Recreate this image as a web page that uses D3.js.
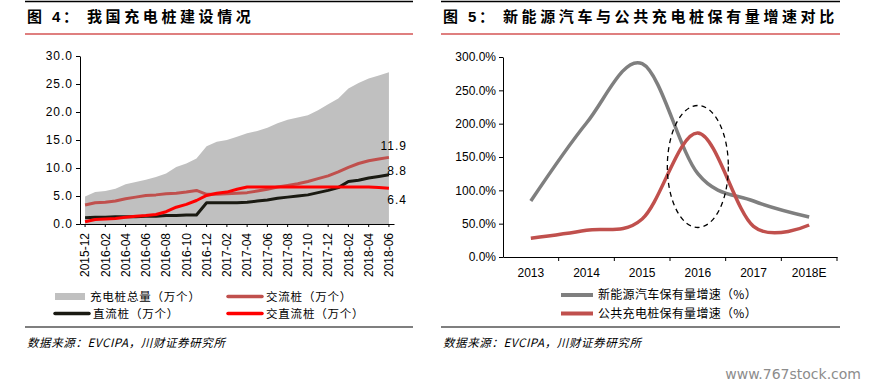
<!DOCTYPE html>
<html>
<head>
<meta charset="utf-8">
<script src="https://cdn.jsdelivr.net/npm/d3@7"></script>
<style>
  body { margin: 0; background: #fff; }
  svg { display: block; }
  text { fill: #000; }
  .num { font-family: "Liberation Sans", Arial, sans-serif; font-size: 12px; }
  .cjk { font-family: "Noto Sans CJK SC", sans-serif; }
</style>
</head>
<body>
<svg id="vis" width="872" height="387"></svg>
<script>
// left: charging pile build-out, monthly (万个)
let months = ["2015-12", "2016-01", "2016-02", "2016-03", "2016-04", "2016-05", "2016-06", "2016-07",
    "2016-08", "2016-09", "2016-10", "2016-11", "2016-12", "2017-01", "2017-02", "2017-03", "2017-04",
    "2017-05", "2017-06", "2017-07", "2017-08", "2017-09", "2017-10", "2017-11", "2017-12", "2018-01",
    "2018-02", "2018-03", "2018-04", "2018-05", "2018-06"];
let monthTicks = ["2015-12", "2016-02", "2016-04", "2016-06", "2016-08", "2016-10", "2016-12", "2017-02",
    "2017-04", "2017-06", "2017-08", "2017-10", "2017-12", "2018-02", "2018-04", "2018-06"];
let totalPiles = [4.9, 5.7, 5.9, 6.3, 7.1, 7.5, 7.9, 8.4, 9.0, 10.2, 10.8, 11.7, 13.9, 14.7, 15.0, 15.6,
    16.2, 16.6, 17.2, 18.0, 18.6, 19.0, 19.4, 20.3, 21.4, 22.4, 24.2, 25.2, 26.0, 26.5, 27.1];
let acPiles = [3.4, 3.8, 3.9, 4.1, 4.5, 4.8, 5.1, 5.2, 5.4, 5.5, 5.7, 6.0, 5.3, 5.3, 5.4, 5.5, 5.6,
    5.9, 6.2, 6.6, 6.9, 7.2, 7.6, 8.1, 8.6, 9.3, 10.1, 10.8, 11.3, 11.6, 11.9];
let dcPiles = [1.1, 1.2, 1.2, 1.3, 1.3, 1.3, 1.4, 1.4, 1.5, 1.5, 1.6, 1.6, 3.8, 3.8, 3.8, 3.8, 3.9,
    4.1, 4.3, 4.6, 4.8, 5.0, 5.2, 5.6, 6.0, 6.5, 7.6, 7.8, 8.2, 8.5, 8.8];
let acdcPiles = [0.4, 0.8, 0.9, 1.0, 1.2, 1.4, 1.5, 1.7, 2.2, 3.0, 3.5, 4.2, 5.1, 5.5, 5.7, 6.2, 6.6,
    6.6, 6.6, 6.6, 6.6, 6.6, 6.6, 6.6, 6.6, 6.6, 6.6, 6.6, 6.6, 6.5, 6.4];
let leftTicks = [0, 5, 10, 15, 20, 25, 30];

// right: growth rates by year
let years = ["2013", "2014", "2015", "2016", "2017", "2018E"];
let evGrowth = [0.84, 2.01, 2.90, 1.25, 0.84, 0.60];
let pileGrowth = [0.28, 0.40, 0.57, 1.86, 0.46, 0.48];
let rightTicks = [0, 0.5, 1, 1.5, 2, 2.5, 3];

let svg = d3.select("#vis");

// ---------- frames, titles, footers ----------
function frame(x0, x1, fig, title) {
    svg.append("line").attr("x1", x0).attr("x2", x1).attr("y1", 1.5).attr("y2", 1.5)
        .attr("stroke", "#000").attr("stroke-width", 1.5);
    svg.append("line").attr("x1", x0).attr("x2", x1).attr("y1", 34).attr("y2", 34)
        .attr("stroke", "#c00000").attr("stroke-width", 1.2);
    svg.append("line").attr("x1", x0).attr("x2", x1).attr("y1", 327).attr("y2", 327)
        .attr("stroke", "#000").attr("stroke-width", 1.2);
    let t = svg.append("text").attr("class", "cjk").attr("y", 22)
        .attr("font-size", "15px").attr("font-weight", "bold");
    t.append("tspan").attr("x", x0 + 2).text("图");
    t.append("tspan").attr("x", x0 + 27).attr("font-family", "Liberation Sans, Arial").text(fig);
    t.append("tspan").attr("x", x0 + 38).text("：");
    t.append("tspan").attr("x", x0 + 62).attr("letter-spacing", "3.6px").text(title);
    svg.append("text").attr("class", "cjk").attr("x", x0 + 2).attr("y", 347)
        .attr("font-size", "11.5px").attr("font-style", "italic").attr("letter-spacing", "0.6px")
        .text("数据来源：EVCIPA，川财证券研究所");
}
frame(25, 413, "4", "我国充电桩建设情况");
frame(441, 840, "5", "新能源汽车与公共充电桩保有量增速对比");

// ---------- left chart ----------
let xL = d3.scaleBand().domain(months).range([80, 394]);
let yL = d3.scaleLinear().domain([0, 30]).range([224, 56]);
let cx = d => xL(d) + xL.bandwidth() / 2;

svg.append("path")
    .datum(months)
    .attr("fill", "#c0c0c0")
    .attr("d", d3.area().x(d => cx(d)).y0(yL(0)).y1((d, i) => yL(totalPiles[i])));

let lineL = vals => d3.line().x(d => cx(d)).y((d, i) => yL(vals[i]))(months);
[[acPiles, "#c0504d"], [dcPiles, "#1a1a12"], [acdcPiles, "#ff0000"]].forEach(([vals, c]) => {
    svg.append("path").attr("d", lineL(vals)).attr("fill", "none")
        .attr("stroke", c).attr("stroke-width", 3).attr("stroke-linejoin", "round");
});

let gyL = svg.append("g").attr("transform", "translate(80,0)")
    .call(d3.axisLeft(yL).tickValues(leftTicks).tickSize(4).tickSizeOuter(0).tickFormat(d3.format(".1f")));
let gxL = svg.append("g").attr("transform", "translate(0,224)")
    .call(d3.axisBottom(xL).tickValues(monthTicks).tickSize(3).tickSizeOuter(0));
gxL.selectAll("text").attr("transform", "rotate(-90)").attr("text-anchor", "end")
    .attr("x", -9).attr("y", 0).attr("dy", "0.35em");

// end labels
let last = months.length - 1;
[[acPiles, -12], [dcPiles, -4], [acdcPiles, 12]].forEach(([vals, dy]) => {
    svg.append("text").attr("class", "num").attr("font-size", "12.5px").attr("letter-spacing", "1px")
        .attr("x", cx(months[last]) + 18).attr("y", yL(vals[last]) + dy).attr("dy", "0.35em")
        .attr("text-anchor", "end").text(d3.format(".1f")(vals[last]));
});

// left legend
let legL = [
    {label: "充电桩总量（万个）", x: 55, y: 296.5, c: "#c0c0c0", box: true},
    {label: "交流桩（万个）", x: 228, y: 296.5, c: "#c0504d"},
    {label: "直流桩（万个）", x: 55, y: 313.5, c: "#1a1a12"},
    {label: "交直流桩（万个）", x: 228, y: 313.5, c: "#ff0000"}
];
legL.forEach(d => {
    if (d.box) {
        svg.append("rect").attr("x", d.x).attr("y", d.y - 3.5).attr("width", 30).attr("height", 7).attr("fill", d.c);
    } else {
        svg.append("line").attr("x1", d.x).attr("x2", d.x + 34).attr("y1", d.y).attr("y2", d.y)
            .attr("stroke", d.c).attr("stroke-width", 3.5).attr("stroke-linecap", "round");
    }
    svg.append("text").attr("class", "cjk").attr("font-size", "11.5px").attr("letter-spacing", "0.8px")
        .attr("x", d.x + (d.box ? 35 : 38)).attr("y", d.y).attr("dy", "0.35em").text(d.label);
});

// ---------- right chart ----------
let xR = d3.scaleBand().domain(years).range([503, 837]);
let yR = d3.scaleLinear().domain([0, 3]).range([257, 57]);
let rx = d => xR(d) + xR.bandwidth() / 2;

let gyR = svg.append("g").attr("transform", "translate(503,0)")
    .call(d3.axisLeft(yR).tickValues(rightTicks).tickSize(4).tickSizeOuter(0).tickFormat(d3.format(".1%")));
let gxR = svg.append("g").attr("transform", "translate(0,257)")
    .call(d3.axisBottom(xR).tickSize(0).tickSizeOuter(0));
gxR.selectAll("text").attr("y", 11);
// boundary ticks between categories
svg.append("g").selectAll("line")
    .data(years.slice(1).concat(["end"]))
    .join("line")
    .attr("x1", d => d === "end" ? 837 : xR(d)).attr("x2", d => d === "end" ? 837 : xR(d))
    .attr("y1", 257).attr("y2", 261).attr("stroke", "#000");

let lineR = vals => d3.line().curve(d3.curveCardinal.tension(0)).x(d => rx(d)).y((d, i) => yR(vals[i]))(years);
svg.append("path").attr("d", lineR(evGrowth)).attr("fill", "none")
    .attr("stroke", "#7f7f7f").attr("stroke-width", 3.5);
svg.append("path").attr("d", lineR(pileGrowth)).attr("fill", "none")
    .attr("stroke", "#c0504d").attr("stroke-width", 3.5);

// highlight ellipse around 2016
svg.append("ellipse").attr("cx", rx("2016")).attr("cy", 166.5).attr("rx", 30.5).attr("ry", 61)
    .attr("fill", "none").attr("stroke", "#000").attr("stroke-width", 1.3).attr("stroke-dasharray", "5,4");

[gyL, gxL, gyR, gxR].forEach(g => {
    g.selectAll("text").attr("class", "num").attr("font-size", "12px").attr("font-family", null).attr("fill", "#000");
    g.select(".domain").attr("stroke", "#000");
});
gyL.selectAll("text").attr("letter-spacing", "1px");

// right legend
let legR = [
    {label: "新能源汽车保有量增速（%）", y: 295, c: "#7f7f7f"},
    {label: "公共充电桩保有量增速（%）", y: 313.5, c: "#c0504d"}
];
legR.forEach(d => {
    svg.append("line").attr("x1", 561).attr("x2", 593).attr("y1", d.y).attr("y2", d.y)
        .attr("stroke", d.c).attr("stroke-width", 4);
    svg.append("text").attr("class", "cjk").attr("font-size", "12px").attr("letter-spacing", "0.3px")
        .attr("x", 598).attr("y", d.y).attr("dy", "0.35em").text(d.label);
});

// watermark
svg.append("text").attr("x", 861).attr("y", 379).attr("text-anchor", "end")
    .attr("font-family", "DejaVu Sans, sans-serif").attr("font-size", "14px")
    .style("fill", "#8c8c8c").text("www.767stock.com");
</script>
</body>
</html>
